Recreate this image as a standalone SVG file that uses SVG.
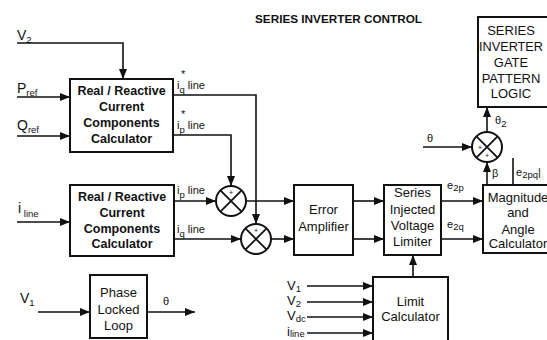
<svg xmlns="http://www.w3.org/2000/svg" width="547" height="340" viewBox="0 0 547 340">
<defs>
<marker id="arr" markerUnits="userSpaceOnUse" markerWidth="10" markerHeight="8" refX="10" refY="4" orient="auto"><path d="M0,0 L10,4 L0,8 z" fill="#111"/></marker>
</defs>
<style>
.box{fill:#fff;stroke:#111;stroke-width:2}
.ln{fill:none;stroke:#111;stroke-width:1.6}
.x{fill:none;stroke:#111;stroke-width:1.8}
.a{marker-end:url(#arr)}
text{font-family:"Liberation Sans",Arial,sans-serif;fill:#111}
.bt{font-size:13px;text-anchor:middle}
.bb{font-size:12.5px;font-weight:bold;text-anchor:middle}
.lb{font-size:14px}
.lc{font-size:13px}
.sm{font-size:11px}
.sub{font-size:9.5px}
.tiny{font-size:7px;text-anchor:middle}
.title{font-size:11px;font-weight:bold}
</style>
<rect width="547" height="340" fill="#fff"/>
<text class="title" x="255" y="23" textLength="167" lengthAdjust="spacingAndGlyphs">SERIES INVERTER CONTROL</text>

<g id="connectors">
<polyline class="ln a" points="17,43 123,43 123,79"/>
<line class="ln a" x1="17" y1="97" x2="70" y2="97"/>
<line class="ln a" x1="17" y1="136" x2="70" y2="136"/>
<polyline class="ln a" points="173,95 256,95 256,224"/>
<polyline class="ln a" points="173,135 231,135 231,186"/>
<line class="ln a" x1="17" y1="222" x2="70" y2="222"/>
<line class="ln a" x1="174" y1="201" x2="216" y2="201"/>
<line class="ln a" x1="174" y1="239" x2="241" y2="239"/>
<line class="ln a" x1="246" y1="201" x2="294" y2="201"/>
<line class="ln a" x1="271" y1="239" x2="294" y2="239"/>
<line class="ln a" x1="353" y1="201" x2="384" y2="201"/>
<line class="ln a" x1="353" y1="239" x2="384" y2="239"/>
<line class="ln a" x1="441" y1="201" x2="483" y2="201"/>
<line class="ln a" x1="441" y1="239" x2="483" y2="239"/>
<line class="ln a" x1="413" y1="277" x2="413" y2="255"/>
<line class="ln a" x1="307" y1="286" x2="373" y2="286"/>
<line class="ln a" x1="307" y1="302" x2="373" y2="302"/>
<line class="ln a" x1="307" y1="317" x2="373" y2="317"/>
<line class="ln a" x1="307" y1="333" x2="373" y2="333"/>
<line class="ln a" x1="38" y1="312" x2="90" y2="312"/>
<line class="ln a" x1="147" y1="312" x2="195" y2="312"/>
<line class="ln a" x1="423" y1="147" x2="472" y2="147"/>
<line class="ln a" x1="487" y1="185" x2="487" y2="162"/>
<line class="ln a" x1="487" y1="132" x2="487" y2="107"/>
<line class="ln" x1="513" y1="158" x2="513" y2="185"/>
</g>

<g id="labels">
<text class="lb" x="17" y="40">V<tspan class="sub" dy="3">2</tspan></text>
<text class="lb" x="17" y="93">P<tspan class="sub" dy="3">ref</tspan></text>
<text class="lb" x="17" y="130">Q<tspan class="sub" dy="3">ref</tspan></text>
<text class="sm" x="177" y="89">i<tspan class="sub" dy="4">q</tspan><tspan dy="-4"> line</tspan></text>
<text class="sm" x="181" y="78">*</text>
<text class="sm" x="177" y="129">i<tspan class="sub" dy="4">p</tspan><tspan dy="-4"> line</tspan></text>
<text class="sm" x="181" y="118">*</text>
<text class="lb" x="18" y="213">i<tspan class="sub" dy="4"> line</tspan></text>
<text class="sm" x="177" y="194">i<tspan class="sub" dy="4">p</tspan><tspan dy="-4"> line</tspan></text>
<text class="sm" x="177" y="233">i<tspan class="sub" dy="4">q</tspan><tspan dy="-4"> line</tspan></text>
<text class="lb" x="20" y="303">V<tspan class="sub" dy="3">1</tspan></text>
<text class="sm" x="163" y="305">θ</text>
<text class="sm" x="447" y="189">e<tspan class="sub" dy="2">2p</tspan></text>
<text class="sm" x="447" y="228">e<tspan class="sub" dy="2">2q</tspan></text>
<text class="lc" x="287" y="290">V<tspan class="sub" dy="2">1</tspan></text>
<text class="lc" x="287" y="305">V<tspan class="sub" dy="2">2</tspan></text>
<text class="lc" x="287" y="320">V<tspan class="sub" dy="2">dc</tspan></text>
<text class="lc" x="287" y="336">i<tspan class="sub" dy="1">line</tspan></text>
<text class="sm" x="427" y="142">θ</text>
<text class="sm" x="495" y="124">θ<tspan class="sub" dy="3">2</tspan></text>
<text class="sm" x="492" y="177">β</text>
<text class="sm" x="516" y="176">e<tspan class="sub" dy="2">2pq</tspan><tspan dy="-2">|</tspan></text>
</g>

<g id="rrc1">
<rect class="box" x="70" y="79" width="103" height="73"/>
<text class="bb" x="121.5" y="95">Real / Reactive</text>
<text class="bb" x="121.5" y="111">Current</text>
<text class="bb" x="121.5" y="127">Components</text>
<text class="bb" x="121.5" y="143">Calculator</text>
</g>
<g id="rrc2">
<rect class="box" x="70" y="185" width="104" height="71"/>
<text class="bb" x="122" y="201">Real / Reactive</text>
<text class="bb" x="122" y="217">Current</text>
<text class="bb" x="122" y="233">Components</text>
<text class="bb" x="122" y="248">Calculator</text>
</g>
<g id="sum1">
<circle class="box" cx="231" cy="201" r="15"/>
<path class="x" d="M220.4,190.4 L241.6,211.6 M241.6,190.4 L220.4,211.6"/>
<text class="tiny" x="231" y="195">+</text>
</g>
<g id="sum2">
<circle class="box" cx="256" cy="239" r="15"/>
<path class="x" d="M245.4,228.4 L266.6,249.6 M266.6,228.4 L245.4,249.6"/>
<text class="tiny" x="256" y="233">+</text>
</g>
<g id="error-amplifier">
<rect class="box" x="294" y="185" width="59" height="70"/>
<text class="bt" x="323.5" y="214">Error</text>
<text class="bt" x="323.5" y="231">Amplifier</text>
</g>
<g id="limiter">
<rect class="box" x="384" y="185" width="57" height="70"/>
<text class="bt" x="412.5" y="197">Series</text>
<text class="bt" x="412.5" y="214">Injected</text>
<text class="bt" x="412.5" y="230">Voltage</text>
<text class="bt" x="412.5" y="246">Limiter</text>
</g>
<g id="magnitude-angle">
<rect class="box" x="483" y="185" width="80" height="68"/>
<text class="bt" x="518" y="202">Magnitude</text>
<text class="bt" x="518" y="217">and</text>
<text class="bt" x="518" y="234">Angle</text>
<text class="bt" x="518" y="248">Calculator</text>
</g>
<g id="limit-calculator">
<rect class="box" x="373" y="277" width="75" height="70"/>
<text class="bt" x="410.5" y="306">Limit</text>
<text class="bt" x="410.5" y="321">Calculator</text>
</g>
<g id="pll">
<rect class="box" x="90" y="275" width="57" height="63"/>
<text class="bt" x="118.5" y="297">Phase</text>
<text class="bt" x="118.5" y="314">Locked</text>
<text class="bt" x="118.5" y="330">Loop</text>
</g>
<g id="sum3">
<circle class="box" cx="487" cy="147" r="15"/>
<path class="x" d="M476.4,136.4 L497.6,157.6 M497.6,136.4 L476.4,157.6"/>
<text class="tiny" x="480" y="150">+</text>
<text class="tiny" x="487" y="158">+</text>
</g>
<g id="gate-logic">
<rect class="box" x="478" y="17" width="80" height="90"/>
<text class="bt" x="511" y="35">SERIES</text>
<text class="bt" x="511" y="51" textLength="64" lengthAdjust="spacingAndGlyphs">INVERTER</text>
<text class="bt" x="511" y="67">GATE</text>
<text class="bt" x="511" y="83">PATTERN</text>
<text class="bt" x="511" y="98">LOGIC</text>
</g>
</svg>
